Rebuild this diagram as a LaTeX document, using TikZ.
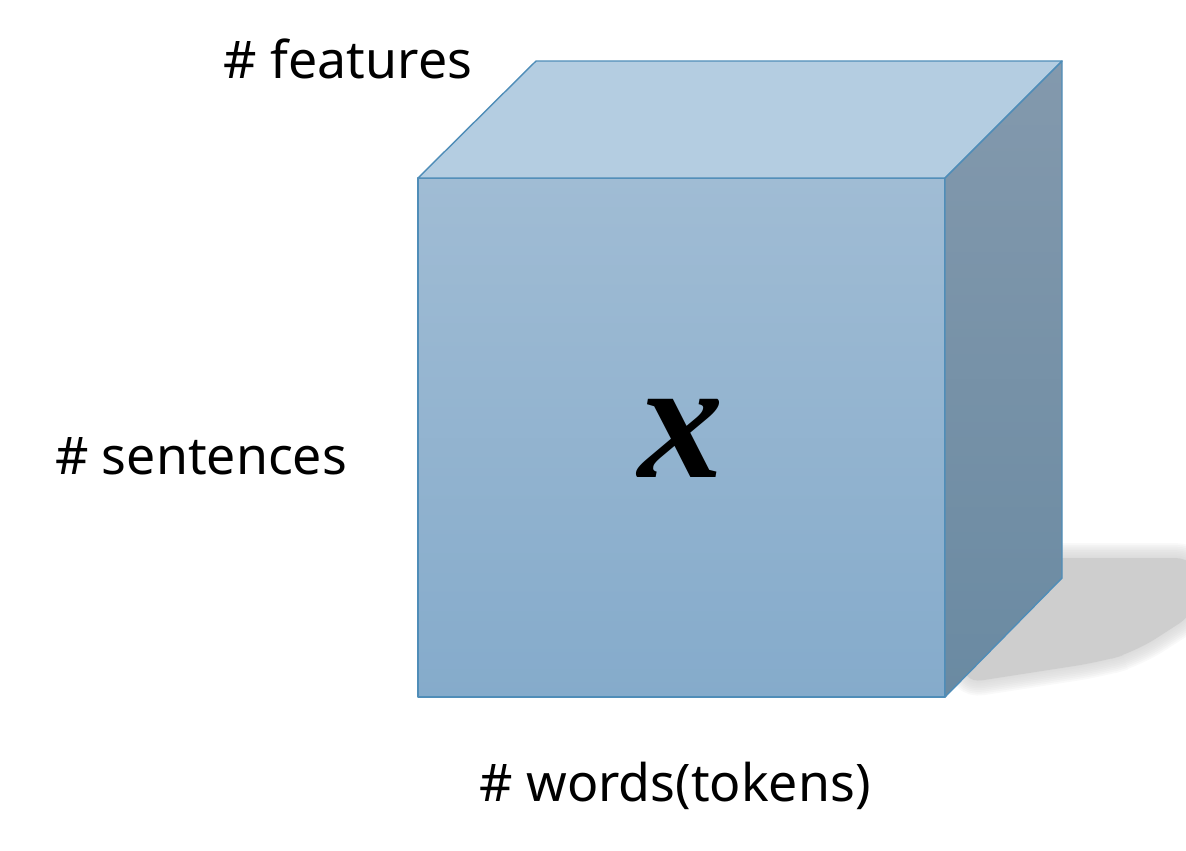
\documentclass[tikz,border=0pt]{standalone}
\usepackage{fontspec}
\setmainfont{Noto Sans}
\newfontfamily\varfont{Liberation Serif}
\usetikzlibrary{positioning}
\usetikzlibrary{calc}

\definecolor{edgeblue}{HTML}{4F8DB8}
\definecolor{topface}{HTML}{B4CDE1}
\definecolor{fronttop}{HTML}{A0BCD4}
\definecolor{frontbot}{HTML}{85ABCB}
\definecolor{sidetop}{HTML}{8399AD}
\definecolor{sidebot}{HTML}{6A8AA2}
\definecolor{shadowgray}{HTML}{CECECE}

\tikzset{
  face/.style={draw=edgeblue, line width=0.8pt, line join=round},
  axislabel/.style={font=\fontsize{29.5}{36}\selectfont, anchor=base, inner sep=0pt},
  bigvar/.style={font=\fontsize{97}{97}\selectfont\varfont\bfseries\itshape, inner sep=0pt, anchor=base}
}

\begin{document}
\begin{tikzpicture}[x=0.02cm, y=-0.02cm]

    \useasboundingbox (0,0) rectangle (1186,850);

    % cube corners
    \coordinate (FTL) at (418,178);
    \coordinate (FTR) at (945,178);
    \coordinate (FBR) at (945,697);
    \coordinate (FBL) at (418,697);
    \coordinate (BTL) at (536,61);
    \coordinate (BTR) at (1062,61);
    \coordinate (BBR) at (1062,578);

    % soft shadow
    \foreach \lw in {17,15,...,1}
      \draw[shadowgray, line width=\lw pt, opacity=0.13, rounded corners=14pt]
        (1000,558) -- (1200,558) -- (1200,610) -- (1135,652) -- (1100,662) -- (958,684) -- cycle;
    \fill[shadowgray, rounded corners=14pt]
        (1000,558) -- (1200,558) -- (1200,610) -- (1135,652) -- (1100,662) -- (958,684) -- cycle;

    % faces
    \path[face, top color=fronttop, bottom color=frontbot] (FTL) -- (FTR) -- (FBR) -- (FBL) -- cycle;
    \path[face, fill=topface] (FTL) -- (BTL) -- (BTR) -- (FTR) -- cycle;
    \path[face, top color=sidetop, bottom color=sidebot] (FTR) -- (BTR) -- (BBR) -- (FBR) -- cycle;

    \node[bigvar] (varx) at (681,477) {x};

    % labels
    \node[axislabel] (features) at (348,78) {\# features};
    \node[axislabel] (sentences) at (201,474) {\# sentences};
    \node[axislabel] (words) at (675,801) {\# words(tokens)};

\end{tikzpicture}
\end{document}
